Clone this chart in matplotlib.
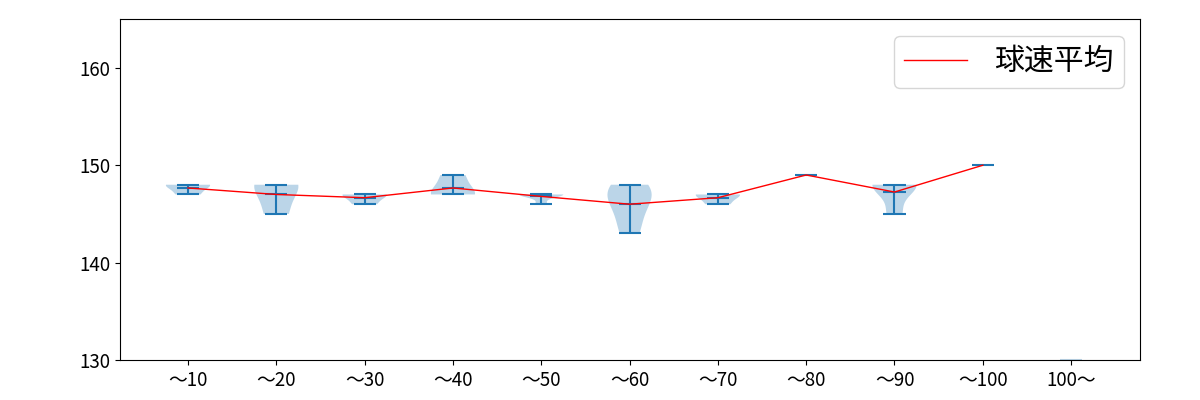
import numpy as np
import matplotlib
matplotlib.use("Agg")
import matplotlib.pyplot as plt

plt.rcParams['font.family'] = ['Noto Sans CJK JP', 'DejaVu Sans']

# speed samples per group (km/h)
labels = ["〜10", "〜20", "〜30", "〜40", "〜50", "〜60", "〜70", "〜80", "〜90", "〜100", "100〜"]
speeds = [
    [147, 148, 148],
    [145, 148, 148],
    [146, 147, 147],
    [147, 147, 149],
    [146, 147, 147, 147, 147],
    [143, 147, 148, 147, 145],
    [146, 147, 147],
    [149],
    [145, 148, 148, 148],
    [150],
    [],
]
mean_label = "球速平均"

positions = np.arange(1, len(labels) + 1)

fig, ax = plt.subplots(figsize=(12, 4), dpi=100)
fig.subplots_adjust(left=0.1, right=0.95, top=0.952, bottom=0.1)

# groups with spread get a real violin, single values only get the bars
multi_pos = [p for p, s in zip(positions, speeds) if len(set(s)) > 1]
multi_data = [s for s in speeds if len(set(s)) > 1]
ax.violinplot(multi_data, positions=multi_pos, showmeans=True)

for p, s in zip(positions, speeds):
    if len(s) > 0 and len(set(s)) == 1:
        ax.hlines(s[0], p - 0.125, p + 0.125, color="C0", lw=1.5)

# empty last group leaves a faint sliver at the bottom edge
ax.hlines(130, positions[-1] - 0.125, positions[-1] + 0.125, color="C0", alpha=0.3, lw=1.5)

means = [np.mean(s) if len(s) else np.nan for s in speeds]
ax.plot(positions, means, color="red", lw=1, label=mean_label)

ax.set_xticks(positions)
ax.set_xticklabels(labels, fontsize=13.5)
ax.tick_params(axis="y", labelsize=13.5)
ax.set_yticks([130, 140, 150, 160])
ax.set_ylim(130, 165)
ax.set_xlim(0.23, 11.78)
ax.legend(loc="upper right", fontsize=21.5, handlelength=2.1,
          handletextpad=0.9, borderpad=0.35, borderaxespad=0.55)

fig.savefig("out.png")
